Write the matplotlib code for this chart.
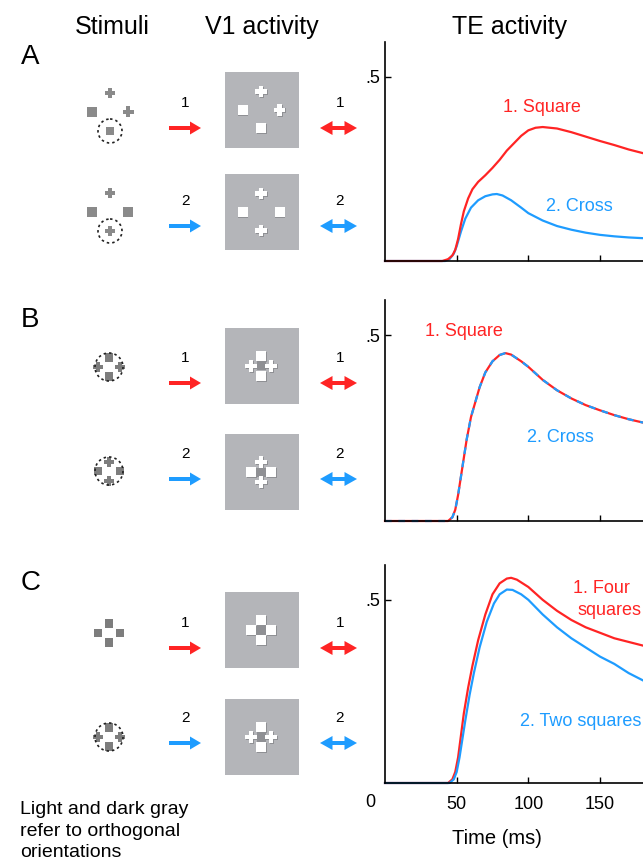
import matplotlib.pyplot as plt
from matplotlib.patches import Rectangle, Polygon, Circle

plt.rcParams['font.family'] = ['Liberation Sans', 'DejaVu Sans']

RED = '#ff2424'
BLUE = '#1e9cff'
BOX_GRAY = '#b4b5b9'
STIM_GRAY = '#8a8a8a'

# ---- TE activity curves (time in ms, response) ----
a_t_red = [0, 40, 44, 47, 49, 51, 53, 55, 58, 61, 65, 70, 75, 80, 85, 90, 95, 100,
           105, 110, 120, 130, 140, 150, 160, 170, 180]
a_red = [0, 0, 0.005, 0.015, 0.03, 0.06, 0.10, 0.135, 0.17, 0.195, 0.215, 0.233, 0.253,
         0.275, 0.30, 0.32, 0.34, 0.355, 0.362, 0.364, 0.36, 0.35, 0.338, 0.326,
         0.315, 0.303, 0.293]
a_t_blue = [0, 42, 45, 48, 50, 53, 56, 60, 65, 70, 75, 78, 82, 88, 95, 100, 110,
            120, 130, 140, 150, 160, 170, 180]
a_blue = [0, 0, 0.005, 0.02, 0.04, 0.08, 0.115, 0.145, 0.165, 0.176, 0.181, 0.182,
          0.178, 0.165, 0.145, 0.13, 0.11, 0.095, 0.085, 0.077, 0.071, 0.067,
          0.064, 0.062]

b_t = [0, 44, 47, 49, 51, 53, 55, 57, 60, 63, 66, 70, 75, 80, 84, 88, 95, 100,
       110, 120, 130, 140, 150, 160, 170, 180]
b_vals = [0, 0, 0.01, 0.03, 0.07, 0.12, 0.17, 0.22, 0.28, 0.32, 0.36, 0.40, 0.43,
          0.447, 0.452, 0.448, 0.43, 0.415, 0.38, 0.352, 0.33, 0.312, 0.298,
          0.285, 0.274, 0.265]

c_t_red = [0, 44, 47, 49, 51, 53, 55, 58, 61, 65, 70, 75, 80, 85, 88, 92, 100,
           110, 120, 130, 140, 150, 160, 170, 180]
c_red = [0, 0, 0.01, 0.03, 0.07, 0.13, 0.19, 0.26, 0.32, 0.39, 0.46, 0.515, 0.545,
         0.558, 0.56, 0.555, 0.535, 0.50, 0.47, 0.445, 0.425, 0.41, 0.395,
         0.385, 0.375]
c_t_blue = [0, 45, 48, 50, 52, 54, 56, 59, 62, 66, 71, 76, 80, 85, 89, 95, 100,
            110, 120, 130, 140, 150, 160, 170, 180]
c_blue = [0, 0, 0.01, 0.03, 0.07, 0.12, 0.17, 0.24, 0.30, 0.37, 0.44, 0.49, 0.515,
          0.528, 0.527, 0.515, 0.50, 0.46, 0.425, 0.395, 0.37, 0.345, 0.325,
          0.30, 0.28]

x_ticks = [50, 100, 150]
x_ticklabels = ['50', '100', '150']

fig = plt.figure(figsize=(6.43, 8.63), dpi=100)

# overlay in pixel coordinates for the schematic part
ov = fig.add_axes([0, 0, 1, 1])
ov.set_xlim(0, 643)
ov.set_ylim(863, 0)
ov.axis('off')


def square(cx, cy, s, fc, shadow=None):
    if shadow:
        ov.add_patch(Rectangle((cx - s / 2 + 0.8, cy - s / 2 + 0.8), s, s, fc=shadow, ec='none'))
    ov.add_patch(Rectangle((cx - s / 2, cy - s / 2), s, s, fc=fc, ec='none'))


def cross(cx, cy, s, fc, shadow=None):
    h = s / 2
    a = s / 5
    pts = [(-a, -h), (a, -h), (a, -a), (h, -a), (h, a), (a, a), (a, h), (-a, h),
           (-a, a), (-h, a), (-h, -a), (-a, -a)]
    if shadow:
        ov.add_patch(Polygon([(cx + x + 0.8, cy + y + 0.8) for x, y in pts], fc=shadow, ec='none'))
    ov.add_patch(Polygon([(cx + x, cy + y) for x, y in pts], fc=fc, ec='none'))


def shape(kind, cx, cy, s, fc, shadow=None):
    if kind == 's':
        square(cx, cy, s, fc, shadow)
    else:
        cross(cx, cy, s + 1.5, fc, shadow)


def dotted_circle(cx, cy, r):
    ov.add_patch(Circle((cx, cy), r, fill=False, ec='#222222', lw=1.2, ls=(0, (1.5, 1.8))))


def arrow(x0, x1, y, col, double=False, hl=11, hw=6.5, sw=1.7):
    # shaft
    s0 = x0 + hl - 1 if double else x0
    ov.add_patch(Rectangle((s0, y - sw), (x1 - hl + 1) - s0, 2 * sw, fc=col, ec='none'))
    ov.add_patch(Polygon([(x1, y), (x1 - hl, y - hw), (x1 - hl, y + hw)], fc=col, ec='none'))
    if double:
        ov.add_patch(Polygon([(x0, y), (x0 + hl, y - hw), (x0 + hl, y + hw)], fc=col, ec='none'))


# layouts: top, left, right, bottom
layouts = {
    'A1': ('c', 's', 'c', 's'),
    'A2': ('c', 's', 's', 'c'),
    'B1': ('s', 'c', 'c', 's'),
    'B2': ('c', 's', 's', 'c'),
    'C1': ('s', 's', 's', 's'),
    'C2': ('s', 'c', 'c', 's'),
}

# Stimuli column
stim_A = {'A1': 112, 'A2': 212}
for key, cy in stim_A.items():
    t, l, r, b = layouts[key]
    shape(t, 110, cy - 19, 8.5, STIM_GRAY)
    shape(l, 92, cy, 9.5, STIM_GRAY)
    shape(r, 128, cy, 9.5, STIM_GRAY)
    shape(b, 110, cy + 19, 8.5, STIM_GRAY)
    dotted_circle(110, cy + 19, 12)

stim_BC = {'B1': 367, 'B2': 471, 'C1': 633, 'C2': 737}
for key, cy in stim_BC.items():
    t, l, r, b = layouts[key]
    d = 9.5
    shape(t, 109, cy - d, 8.5, '#7d7d7d')
    shape(l, 98, cy, 8.5, '#7d7d7d')
    shape(r, 120, cy, 8.5, '#7d7d7d')
    shape(b, 109, cy + d, 8.5, '#7d7d7d')
    if key != 'C1':
        dotted_circle(109, cy, 14)

# V1 activity boxes
v1_centers = {'A1': 110, 'A2': 212, 'B1': 366, 'B2': 472, 'C1': 630, 'C2': 737}
for key, cy in v1_centers.items():
    ov.add_patch(Rectangle((225, cy - 38), 74, 76, fc=BOX_GRAY, ec='none'))
    t, l, r, b = layouts[key]
    d = 18.5 if key[0] == 'A' else 10
    if key[0] != 'A':
        square(261, cy, 9, '#8f9094')
    shape(t, 261, cy - d, 10, 'white', '#8f9094')
    shape(l, 261 - d, cy, 10, 'white', '#8f9094')
    shape(r, 261 + d, cy, 10, 'white', '#8f9094')
    shape(b, 261, cy + d, 10, 'white', '#8f9094')

# arrows and numbers
arrow_rows = [(128, RED, '1'), (226, BLUE, '2'), (383, RED, '1'), (479, BLUE, '2'),
              (648, RED, '1'), (743, BLUE, '2')]
for y, col, num in arrow_rows:
    arrow(169, 201, y, col)
    arrow(320, 357, y, col, double=True, hl=12.5, hw=7)
    ov.text(185, y - 25, num, ha='center', va='center', fontsize=11)
    ov.text(340, y - 25, num, ha='center', va='center', fontsize=11)

# headers and panel letters
ov.text(112, 27, 'Stimuli', ha='center', va='center', fontsize=18)
ov.text(262, 27, 'V1 activity', ha='center', va='center', fontsize=18)
ov.text(510, 27, 'TE activity', ha='center', va='center', fontsize=18)
for letter, y in [('A', 57), ('B', 320), ('C', 583)]:
    ov.text(21, y, letter, ha='left', va='center', fontsize=20)

ov.text(20, 831, 'Light and dark gray\nrefer to orthogonal\norientations', ha='left',
        va='center', fontsize=14, linespacing=1.33)
ov.text(370, 802, '0', ha='center', va='center', fontsize=13)
ov.text(497, 838, 'Time (ms)', ha='center', va='center', fontsize=14.5)

# TE activity plots
W = 643.0
H = 863.0
panels = [(42, 261), (300, 521), (565, 783)]
axes = []
for top, bot in panels:
    ax = fig.add_axes([385 / W, (H - bot) / H, (W - 385) / W, (bot - top) / H])
    ax.set_xlim(0, 180)
    ax.set_ylim(0, 0.595)
    ax.spines['top'].set_visible(False)
    ax.spines['right'].set_visible(False)
    ax.spines['left'].set_linewidth(1.2)
    ax.spines['bottom'].set_linewidth(1.2)
    ax.patch.set_alpha(0)
    ax.set_yticks([0.5])
    ax.set_yticklabels(['.5'])
    ax.set_xticks(x_ticks)
    ax.set_xticklabels([])
    ax.tick_params(direction='in', length=4, width=1, labelsize=13)
    ax.tick_params(axis='x', pad=9)
    axes.append(ax)

axA, axB, axC = axes
axC.set_xticklabels(x_ticklabels)

axA.plot(a_t_blue, a_blue, color=BLUE, lw=1.6, clip_on=False)
axA.plot(a_t_red, a_red, color=RED, lw=1.6, clip_on=False)
axA.text(82, 0.418, '1. Square', color=RED, fontsize=13, va='center')
axA.text(112, 0.147, '2. Cross', color=BLUE, fontsize=13, va='center')

axB.plot(b_t, b_vals, color=RED, lw=1.6, clip_on=False)
axB.plot(b_t, b_vals, color=BLUE, lw=1.6, ls=(0, (3, 3)), clip_on=False)
axB.text(28, 0.51, '1. Square', color=RED, fontsize=13, va='center')
axB.text(99, 0.224, '2. Cross', color=BLUE, fontsize=13, va='center')

axC.plot(c_t_red, c_red, color=RED, lw=1.6, clip_on=False)
axC.plot(c_t_blue, c_blue, color=BLUE, lw=1.6, clip_on=False)
axC.text(171, 0.532, '1. Four', color=RED, fontsize=13, va='center', ha='right')
axC.text(179, 0.472, 'squares', color=RED, fontsize=13, va='center', ha='right')
axC.text(179, 0.167, '2. Two squares', color=BLUE, fontsize=13, va='center', ha='right')

fig.savefig('out.png', dpi=100)
